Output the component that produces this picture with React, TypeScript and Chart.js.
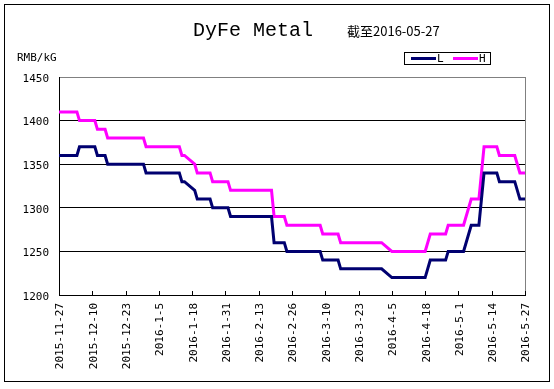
import React, { useEffect, useRef } from "react";
import { Chart, registerables } from "chart.js";

Chart.register(...registerables);

const titleText = "DyFe Metal";
const subtitleText = "截至2016-05-27";
const unitText = "RMB/kG";

const xTickLabels = [
  "2015-11-27", "2015-12-10", "2015-12-23", "2016-1-5", "2016-1-18",
  "2016-1-31", "2016-2-13", "2016-2-26", "2016-3-10", "2016-3-23",
  "2016-4-5", "2016-4-18", "2016-5-1", "2016-5-14", "2016-5-27",
];
const dayStep = 13;
const dayMax = 182;
const yMin = 1200;
const yMax = 1450;
const yStep = 50;

// days since 2015-11-27
const lDays = [0, 7, 8, 14, 15, 18, 19, 33, 34, 47, 48, 49, 53, 54, 59, 60, 66, 67, 83, 84, 88, 89, 102, 103, 109, 110, 126, 130, 143, 145, 151, 152, 158, 161, 164, 166, 171, 172, 178, 180, 182];
const lValues = [1360, 1360, 1370, 1370, 1360, 1360, 1350, 1350, 1340, 1340, 1330, 1330, 1320, 1310, 1310, 1300, 1300, 1290, 1290, 1260, 1260, 1250, 1250, 1240, 1240, 1230, 1230, 1220, 1220, 1240, 1240, 1250, 1250, 1280, 1280, 1340, 1340, 1330, 1330, 1310, 1310];

const hDays = [0, 7, 8, 14, 15, 18, 19, 33, 34, 47, 48, 49, 53, 54, 59, 60, 66, 67, 83, 84, 88, 89, 102, 103, 109, 110, 126, 130, 143, 145, 151, 152, 158, 161, 164, 166, 171, 172, 178, 180, 182];
const hValues = [1410, 1410, 1400, 1400, 1390, 1390, 1380, 1380, 1370, 1370, 1360, 1360, 1350, 1340, 1340, 1330, 1330, 1320, 1320, 1290, 1290, 1280, 1280, 1270, 1270, 1260, 1260, 1250, 1250, 1270, 1270, 1280, 1280, 1310, 1310, 1370, 1370, 1360, 1360, 1340, 1340];

const seriesNames = ["L", "H"];
const seriesColors = ["#000070", "#ff00ff"];

const MONO = '"DejaVu Sans Mono", monospace';
const TITLE_FONT = '"Liberation Mono", monospace';

const decorPlugin = {
  id: "decor",
  afterDraw(chart: any) {
    const ctx = chart.ctx as CanvasRenderingContext2D;
    const a = chart.chartArea;
    const xs = chart.scales.x;
    ctx.save();
    // outer frame
    ctx.strokeStyle = "#000";
    ctx.lineWidth = 1;
    ctx.strokeRect(4.5, 4.5, 545, 377);
    // right plot border
    ctx.strokeStyle = "#808080";
    ctx.beginPath();
    const rx = Math.round(a.right) + 0.5;
    ctx.moveTo(rx, a.top);
    ctx.lineTo(rx, a.bottom);
    ctx.stroke();
    // inner x ticks
    ctx.strokeStyle = "#000";
    ctx.beginPath();
    for (const t of xs.ticks) {
      const px = Math.round(xs.getPixelForValue(t.value)) + 0.5;
      ctx.moveTo(px, Math.round(a.bottom));
      ctx.lineTo(px, Math.round(a.bottom) - 4);
    }
    ctx.stroke();
    // titles
    ctx.fillStyle = "#000";
    ctx.textBaseline = "alphabetic";
    ctx.textAlign = "left";
    ctx.font = `20px ${TITLE_FONT}`;
    ctx.fillText(titleText, 193, 36);
    ctx.font = '13px "Noto Sans CJK SC", sans-serif';
    ctx.textBaseline = "middle";
    ctx.fillText(subtitleText, 347, 31);
    ctx.font = `11px ${MONO}`;
    ctx.fillText(unitText, 17, 58);
    // legend
    ctx.strokeStyle = "#000";
    ctx.lineWidth = 1;
    ctx.strokeRect(404.5, 52.5, 86, 12);
    const items = chart.data.datasets;
    const starts = [411, 453];
    items.forEach((ds: any, i: number) => {
      const sx = starts[i];
      ctx.strokeStyle = ds.borderColor;
      ctx.lineWidth = 3;
      ctx.beginPath();
      ctx.moveTo(sx, 58.5);
      ctx.lineTo(sx + 25, 58.5);
      ctx.stroke();
      ctx.fillStyle = "#000";
      ctx.font = `11px ${MONO}`;
      ctx.textBaseline = "middle";
      ctx.fillText(ds.label, sx + 26, 59);
    });
    ctx.restore();
  },
};

export default function App() {
  const ref = useRef<HTMLCanvasElement>(null);
  useEffect(() => {
    if (!ref.current) return;
    const chart = new Chart(ref.current, {
      type: "line",
      data: {
        datasets: [
          {
            label: seriesNames[0],
            data: lDays.map((d, i) => ({ x: d, y: lValues[i] })),
            borderColor: seriesColors[0],
            backgroundColor: seriesColors[0],
            borderWidth: 3,
            pointRadius: 0,
            tension: 0,
          },
          {
            label: seriesNames[1],
            data: hDays.map((d, i) => ({ x: d, y: hValues[i] })),
            borderColor: seriesColors[1],
            backgroundColor: seriesColors[1],
            borderWidth: 3,
            pointRadius: 0,
            tension: 0,
          },
        ],
      },
      options: {
        responsive: false,
        animation: false,
        layout: { padding: { top: 77, right: 29, bottom: 0, left: 0 } },
        plugins: {
          legend: { display: false },
          title: { display: false },
          tooltip: { enabled: false },
        },
        scales: {
          x: {
            type: "linear",
            min: 0,
            max: dayMax,
            afterFit: (s: any) => {
              s.height = 94;
            },
            grid: { display: false, drawTicks: false },
            border: { display: true, color: "#000", width: 1 },
            ticks: {
              stepSize: dayStep,
              autoSkip: false,
              maxRotation: 90,
              minRotation: 90,
              padding: 8,
              labelOffset: 1.5,
              color: "#000",
              font: { family: MONO, size: 11 },
              callback: (v: any) => xTickLabels[Math.round(Number(v) / dayStep)] ?? "",
            },
          },
          y: {
            min: yMin,
            max: yMax,
            afterFit: (s: any) => {
              s.width = 59;
            },
            grid: {
              drawTicks: false,
              color: (c: any) => (c.tick && c.tick.value === yMax ? "#808080" : "#000"),
              lineWidth: 1,
            },
            border: { display: true, color: "#000", width: 1 },
            ticks: {
              stepSize: yStep,
              padding: 10,
              labelOffset: 2,
              color: "#000",
              font: { family: MONO, size: 11 },
              callback: (v: any) => String(v),
            },
          },
        },
      },
      plugins: [decorPlugin],
    });
    return () => chart.destroy();
  }, []);
  return (
    <div style={{ position: "absolute", left: 0, top: 0, width: 554, height: 389, background: "#fff" }}>
      <canvas ref={ref} width={554} height={389} />
    </div>
  );
}
